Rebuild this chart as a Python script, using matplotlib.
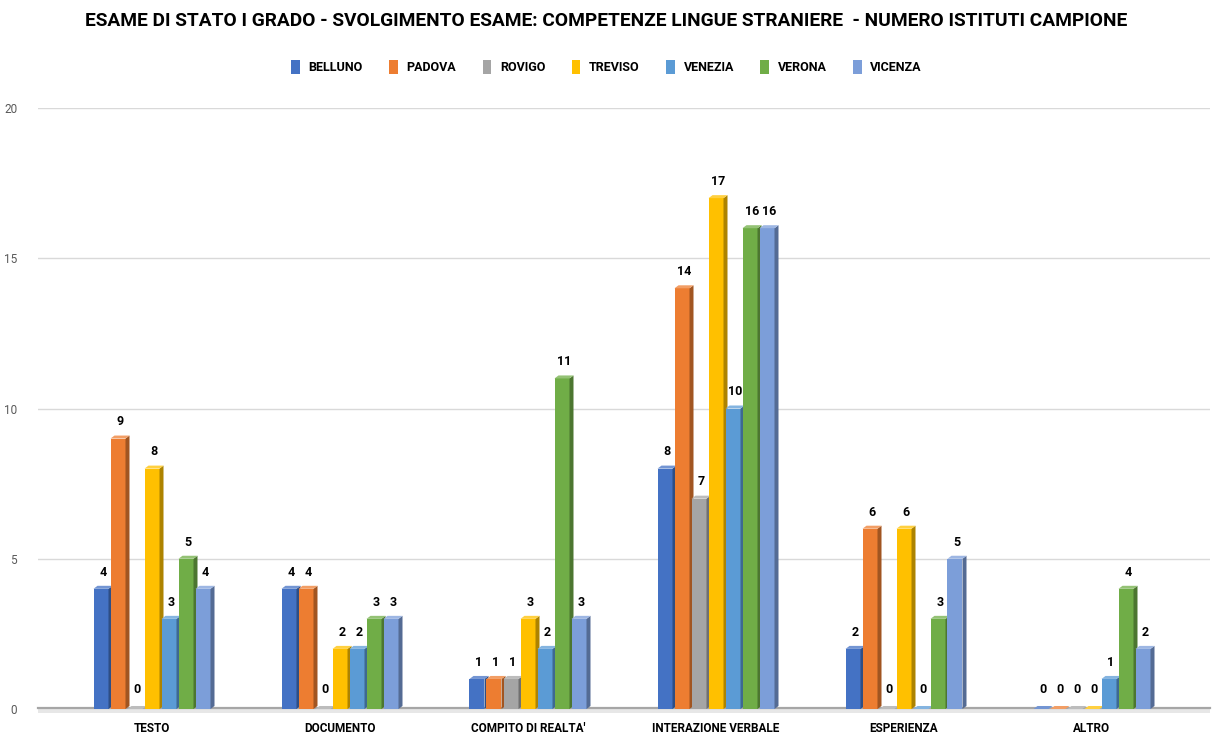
import matplotlib
matplotlib.use("Agg")
import matplotlib.pyplot as plt
from matplotlib.patches import Rectangle, Polygon, Patch
from matplotlib import colors as mcolors
import numpy as np

categories = ["TESTO", "DOCUMENTO", "COMPITO DI REALTA'", "INTERAZIONE VERBALE", "ESPERIENZA", "ALTRO"]
series = ["BELLUNO", "PADOVA", "ROVIGO", "TREVISO", "VENEZIA", "VERONA", "VICENZA"]
belluno = [4, 4, 1, 8, 2, 0]
padova = [9, 4, 1, 14, 6, 0]
rovigo = [0, 0, 1, 7, 0, 0]
treviso = [8, 2, 3, 17, 6, 0]
venezia = [3, 2, 2, 10, 0, 1]
verona = [5, 3, 11, 16, 3, 4]
vicenza = [4, 3, 3, 16, 5, 2]
values = [belluno, padova, rovigo, treviso, venezia, verona, vicenza]
colors = ["#4472C4", "#ED7D31", "#A5A5A5", "#FFC000", "#5B9BD5", "#70AD47", "#7C9ED9"]
yticks = [0, 5, 10, 15, 20]

title = "ESAME DI STATO I GRADO - SVOLGIMENTO ESAME: COMPETENZE LINGUE STRANIERE  - NUMERO ISTITUTI CAMPIONE"

W, H = 1213, 734
fig = plt.figure(figsize=(W / 100, H / 100), dpi=100)
fig.patch.set_facecolor("white")
left_px, right_px = 38, 1210
top_px, bot_px = 108, 709
ax = fig.add_axes([left_px / W, (H - bot_px) / H, (right_px - left_px) / W, (bot_px - top_px) / H])

cat_step_px = 188.0
x0 = (left_px - 152) / cat_step_px
x1 = (right_px - 152) / cat_step_px
ax.set_xlim(x0, x1)
ax.set_ylim(0, 20)

pitch = 17 / cat_step_px
fw = 15 / cat_step_px
dx = 4 / cat_step_px
dy = 3 / 30.0


def shade(c, f):
    r, g, b = mcolors.to_rgb(c)
    return (r * f, g * f, b * f)


def light(c, f):
    r, g, b = mcolors.to_rgb(c)
    return (r + (1 - r) * f, g + (1 - g) * f, b + (1 - b) * f)


# gridlines
for t in yticks[1:]:
    ax.axhline(t, color="#D9D9D9", lw=1, zorder=0)

# floor
floor = Polygon([(x0, 0), (x1, 0), (x1, -0.12), (x0, -0.12)], closed=True,
                facecolor="#E7E7E7", edgecolor="none", clip_on=False, zorder=0.5)
ax.add_patch(floor)
ax.plot([x0, x1], [0.03, 0.03], color="#A6A6A6", lw=1.6, zorder=0.6, clip_on=False)

n = len(series)
for i, (vals, col) in enumerate(zip(values, colors)):
    for j, v in enumerate(vals):
        xc = j + (i - (n - 1) / 2) * pitch
        xl = xc - fw / 2
        xr = xc + fw / 2
        z = 2 + i * 0.01
        ax.add_patch(Rectangle((xl, 0), fw, v, facecolor=col, edgecolor="none", zorder=z))
        ax.add_patch(Polygon([(xr, 0), (xr + dx, dy), (xr + dx, v + dy), (xr, v)], closed=True,
                             facecolor=shade(col, 0.68), edgecolor="none", zorder=z))
        ax.add_patch(Polygon([(xl, v), (xl + dx, v + dy), (xr + dx, v + dy), (xr, v)], closed=True,
                             facecolor=light(col, 0.25), edgecolor="none", zorder=z))
        ax.annotate(str(v), (xc + dx / 2, v), xytext=(0, 12 if v > 0 else 14), textcoords="offset points",
                    ha="center", va="center", fontsize=9, fontweight="bold", family="Roboto",
                    color="#000000", zorder=5)

ax.set_yticks(yticks)
ax.set_yticklabels([str(t) for t in yticks], fontsize=8.5, color="#595959", family="Roboto")
ax.set_xticks(range(len(categories)))
ax.set_xticklabels(categories, fontsize=8.5, fontweight="bold", family="Roboto", color="#000000")
ax.tick_params(axis="y", length=0, pad=15)
ax.tick_params(axis="x", length=0, pad=9)
for s in ax.spines.values():
    s.set_visible(False)

fig.text(0.5, 1 - 21 / H, title, ha="center", va="center", fontsize=13.8, fontweight="bold",
         family=["Roboto", "DejaVu Sans"])

handles = [Patch(facecolor=c, edgecolor="none") for c in colors]
leg = fig.legend(handles, series, loc="center", bbox_to_anchor=(0.5, 1 - 67 / H), ncol=7, frameon=False,
                 prop={"family": "Roboto", "weight": "bold", "size": 9},
                 handlelength=0.7, handleheight=1.4, handletextpad=0.7, columnspacing=2.1)

fig.savefig("out.png", dpi=100, facecolor="white")
